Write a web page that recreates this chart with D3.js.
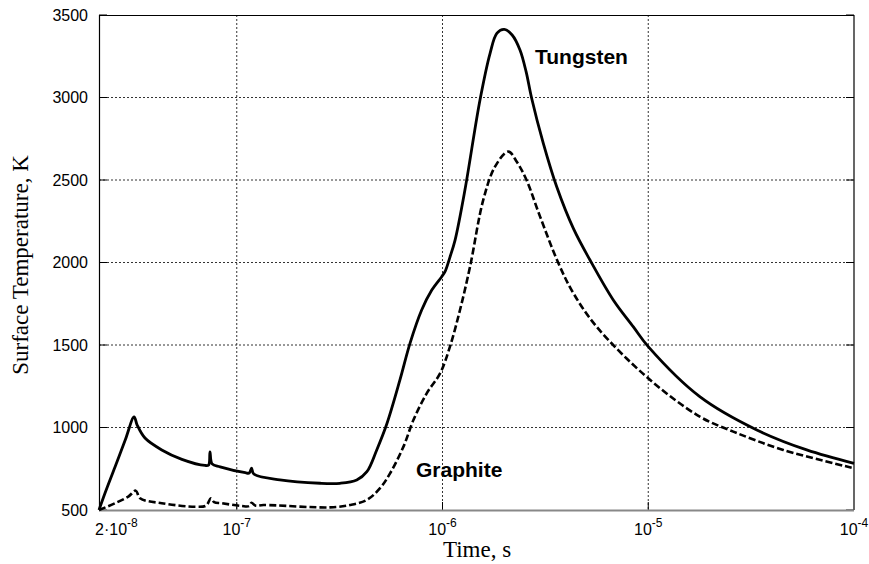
<!DOCTYPE html>
<html>
<head>
<meta charset="utf-8">
<script src="https://cdn.jsdelivr.net/npm/d3@7"></script>
<style>
  body { margin: 0; background: #fff; }
  svg { display: block; }
</style>
</head>
<body>
<div id="chart"></div>
<script>
// values
const tungstenTime = [2.14e-8, 2.29e-8, 2.56e-8, 2.87e-8, 3.17e-8, 3.28e-8, 3.58e-8, 4.32e-8, 5.41e-8, 7.01e-8,
    7.30e-8, 7.41e-8, 7.59e-8, 8.30e-8, 1.10e-7, 1.15e-7, 1.18e-7, 1.21e-7, 1.62e-7, 2.54e-7,
    3.18e-7, 3.83e-7, 4.29e-7, 4.79e-7, 5.36e-7, 6.21e-7, 6.95e-7, 7.92e-7, 8.87e-7, 9.91e-7,
    1.028e-6, 1.087e-6, 1.151e-6, 1.285e-6, 1.521e-6, 1.703e-6, 1.84e-6, 1.995e-6, 2.18e-6, 2.38e-6,
    2.55e-6, 2.71e-6, 3.09e-6, 3.59e-6, 4.33e-6, 5.21e-6, 6.76e-6, 8.45e-6, 1e-5, 1.78e-5,
    3.37e-5, 5.89e-5, 1e-4]
const tungstenTemp = [500, 603, 761, 924, 1064, 1015, 936, 864, 807, 770,
    773, 852, 779, 761, 726, 724, 753, 718, 682, 662,
    662, 682, 732, 864, 1021, 1288, 1510, 1712, 1833, 1914,
    1944, 2033, 2136, 2439, 2985, 3268, 3390, 3413, 3379, 3288,
    3155, 2997, 2722, 2459, 2205, 2015, 1773, 1611, 1490, 1187,
    985, 864, 783]

const graphiteTime = [2.14e-8, 2.56e-8, 2.97e-8, 3.23e-8, 3.39e-8, 4.32e-8, 6.27e-8, 7.10e-8, 7.48e-8, 7.76e-8,
    8.46e-8, 1.057e-7, 1.15e-7, 1.18e-7, 1.23e-7, 1.35e-7, 2.84e-7, 3.55e-7, 4.29e-7, 4.97e-7,
    5.56e-7, 6.46e-7, 7.22e-7, 8.38e-7, 9.73e-7, 1.087e-6, 1.216e-6, 1.361e-6, 1.578e-6, 1.80e-6,
    2.09e-6, 2.30e-6, 2.56e-6, 2.98e-6, 3.66e-6, 4.33e-6, 5.61e-6, 1e-5, 1.78e-5, 2.59e-5,
    4.53e-5, 1e-4]
const graphiteTemp = [500, 541, 581, 617, 571, 541, 520, 527, 571, 548,
    541, 524, 524, 544, 527, 530, 516, 530, 561, 632,
    722, 884, 1045, 1207, 1328, 1490, 1712, 1975, 2379, 2581,
    2672, 2609, 2500, 2278, 1995, 1813, 1611, 1298, 1066, 975,
    864, 753]

const xMin = 2.14e-8
const xMax = 1e-4
const xTicks = [1e-7, 1e-6, 1e-5, 1e-4]
const xTickExp = ['-7', '-6', '-5', '-4']
const yTicks = [500, 1000, 1500, 2000, 2500, 3000, 3500]

const W = 869, H = 564
const margin = { top: 15, right: 15, bottom: 54, left: 99 }
const width = W - margin.left - margin.right
const height = H - margin.top - margin.bottom

const svg = d3.select('#chart').append('svg')
    .attr('width', W)
    .attr('height', H)

const g = svg.append('g')
    .attr('transform', `translate(${margin.left}, ${margin.top})`)

const x = d3.scaleLog().domain([xMin, xMax]).range([0, width])
const y = d3.scaleLinear().domain([500, 3500]).range([height, 0])

const tickFont = 'Arial, "Liberation Sans", sans-serif'
const titleFont = '"Times New Roman", "Liberation Serif", serif'

// grid
g.append('g').selectAll('line')
    .data(yTicks.filter(v => v > 500 && v < 3500))
    .join('line')
    .attr('x1', 0).attr('x2', width)
    .attr('y1', d => y(d)).attr('y2', d => y(d))
    .attr('stroke', '#333')
    .attr('stroke-width', 1)
    .attr('stroke-dasharray', '2,2')

g.append('g').selectAll('line')
    .data(xTicks.slice(0, 3))
    .join('line')
    .attr('x1', d => x(d)).attr('x2', d => x(d))
    .attr('y1', 0).attr('y2', height)
    .attr('stroke', '#333')
    .attr('stroke-width', 1)
    .attr('stroke-dasharray', '2,2')

// frame
g.append('line').attr('x1', 0).attr('x2', width).attr('y1', 0.5).attr('y2', 0.5)
    .attr('stroke', '#000').attr('stroke-width', 1.2)
g.append('line').attr('x1', width).attr('x2', width).attr('y1', 0).attr('y2', height)
    .attr('stroke', '#000').attr('stroke-width', 1.2)
g.append('line').attr('x1', 0.5).attr('x2', 0.5).attr('y1', 0).attr('y2', height)
    .attr('stroke', '#000').attr('stroke-width', 1.2)

// inward ticks
g.append('g').selectAll('line')
    .data(yTicks)
    .join('line')
    .attr('x1', 0).attr('x2', 8)
    .attr('y1', d => y(d)).attr('y2', d => y(d))
    .attr('stroke', '#000')
g.append('g').selectAll('line')
    .data(yTicks)
    .join('line')
    .attr('x1', width - 8).attr('x2', width)
    .attr('y1', d => y(d)).attr('y2', d => y(d))
    .attr('stroke', '#000')
g.append('g').selectAll('line')
    .data(xTicks.slice(0, 3))
    .join('line')
    .attr('x1', d => x(d)).attr('x2', d => x(d))
    .attr('y1', height - 8).attr('y2', height)
    .attr('stroke', '#000')

// y tick labels
g.append('g').selectAll('text')
    .data(yTicks)
    .join('text')
    .attr('x', -11)
    .attr('y', d => y(d))
    .attr('dy', '0.36em')
    .attr('text-anchor', 'end')
    .attr('font-family', tickFont)
    .attr('font-size', 16)
    .attr('fill', '#000')
    .text(d => d)

// x tick labels
const xl = g.append('g')
xTicks.forEach((t, i) => {
    const txt = xl.append('text')
        .attr('x', x(t))
        .attr('y', height + 25)
        .attr('text-anchor', 'middle')
        .attr('font-family', tickFont)
        .attr('font-size', 16)
    txt.append('tspan').text('10')
    txt.append('tspan').attr('dy', -8).attr('font-size', 12).text(xTickExp[i])
})
const first = xl.append('text')
    .attr('x', x(xMin) - 4)
    .attr('y', height + 25)
    .attr('text-anchor', 'start')
    .attr('font-family', tickFont)
    .attr('font-size', 16)
first.append('tspan').text('2·10')
first.append('tspan').attr('dy', -8).attr('font-size', 12).text('-8')

// bottom axis line (grey)
g.append('line').attr('x1', 0).attr('x2', width).attr('y1', height + 0.5).attr('y2', height + 0.5)
    .attr('stroke', '#888').attr('stroke-width', 2)

// curves
const line = d3.line()
    .x(d => x(d[0]))
    .y(d => y(d[1]))
    .curve(d3.curveCatmullRom.alpha(0.5))

const tungsten = tungstenTime.map((t, i) => [t, tungstenTemp[i]])
const graphite = graphiteTime.map((t, i) => [t, graphiteTemp[i]])

g.append('path')
    .datum(graphite)
    .attr('d', line)
    .attr('fill', 'none')
    .attr('stroke', '#000')
    .attr('stroke-width', 2.6)
    .attr('stroke-dasharray', '7,3')

g.append('path')
    .datum(tungsten)
    .attr('d', line)
    .attr('fill', 'none')
    .attr('stroke', '#000')
    .attr('stroke-width', 2.8)

// series labels
svg.append('text')
    .attr('x', 535).attr('y', 64)
    .attr('font-family', tickFont)
    .attr('font-weight', 'bold')
    .attr('font-size', 21)
    .text('Tungsten')
svg.append('text')
    .attr('x', 416).attr('y', 477)
    .attr('font-family', tickFont)
    .attr('font-weight', 'bold')
    .attr('font-size', 21)
    .text('Graphite')

// axis titles
svg.append('text')
    .attr('x', 477)
    .attr('y', 557)
    .attr('text-anchor', 'middle')
    .attr('font-family', titleFont)
    .attr('font-size', 23)
    .text('Time, s')

svg.append('text')
    .attr('transform', `translate(28, 265) rotate(-90)`)
    .attr('text-anchor', 'middle')
    .attr('font-family', titleFont)
    .attr('font-size', 23)
    .text('Surface Temperature, K')
</script>
</body>
</html>
